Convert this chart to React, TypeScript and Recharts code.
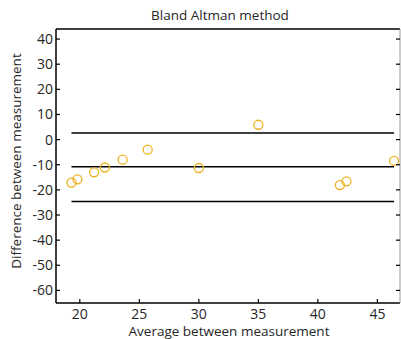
import React from 'react';
import { ScatterChart, Scatter, XAxis, YAxis, ReferenceLine } from 'recharts';

// values
const avgValues = [19.3, 19.8, 21.2, 22.1, 23.6, 25.7, 30.0, 35.0, 41.85, 42.4, 46.4];
const diffValues = [-17.1, -15.8, -13.0, -11.1, -8.0, -4.0, -11.3, 5.9, -18.1, -16.6, -8.5];
const xTicks = [20, 25, 30, 35, 40, 45];
const yTicks = [-60, -50, -40, -30, -20, -10, 0, 10, 20, 30, 40];
const meanDiff = -10.8;
const upperLimit = 2.6;
const lowerLimit = -24.6;

const points = avgValues.map((a, i) => ({ avg: a, diff: diffValues[i] }));
const xMin = Math.min(...avgValues);
const xMax = Math.max(...avgValues);

const FONT = '"Open Sans", sans-serif';
const TEXT = '#262626';

const BottomTick = (props: any) => {
  const { x, y, payload } = props;
  return (
    <g>
      <line x1={x} y1={y} x2={x} y2={y - 4} stroke="#000" strokeWidth={1.2} />
      <text x={x} y={y + 16} textAnchor="middle" fontSize={14} fontFamily={FONT} fill={TEXT}>
        {payload.value}
      </text>
    </g>
  );
};

const LeftTick = (props: any) => {
  const { x, y, payload } = props;
  return (
    <g>
      <line x1={x} y1={y} x2={x + 4} y2={y} stroke="#000" strokeWidth={1.2} />
      <text x={x - 3} y={y + 5} textAnchor="end" fontSize={14} fontFamily={FONT} fill={TEXT}>
        {payload.value}
      </text>
    </g>
  );
};

const TopTick = (props: any) => (
  <line x1={props.x} y1={props.y} x2={props.x} y2={props.y + 4} stroke="#000" strokeWidth={1.2} />
);

const RightTick = (props: any) => (
  <line x1={props.x} y1={props.y} x2={props.x - 4} y2={props.y} stroke="#000" strokeWidth={1.2} />
);

const Ring = (props: any) => (
  <circle cx={props.cx} cy={props.cy} r={4.5} fill="none" stroke="#EDB120" strokeWidth={1.3} />
);

export default function App() {
  const axisLine = { stroke: '#000', strokeWidth: 1.5 };
  return (
    <div style={{ position: 'absolute', left: 0, top: 0, width: 401, height: 339, background: '#fff', fontFamily: FONT, color: TEXT }}>
      <ScatterChart width={401} height={339} margin={{ top: 28, right: 0, bottom: 35, left: 55 }}>
        <XAxis
          xAxisId={0}
          type="number"
          dataKey="avg"
          domain={[18, 46.9]}
          ticks={xTicks}
          allowDataOverflow
          height={1}
          tickSize={0}
          tickMargin={0}
          tickLine={false}
          axisLine={axisLine}
          tick={<BottomTick />}
          interval={0}
        />
        <XAxis
          xAxisId="top"
          orientation="top"
          type="number"
          domain={[18, 46.9]}
          ticks={xTicks}
          allowDataOverflow
          height={1}
          tickSize={0}
          tickMargin={0}
          tickLine={false}
          axisLine={axisLine}
          tick={<TopTick />}
          interval={0}
        />
        <YAxis
          yAxisId={0}
          type="number"
          dataKey="diff"
          domain={[-65, 44]}
          ticks={yTicks}
          allowDataOverflow
          width={1}
          tickSize={0}
          tickMargin={0}
          tickLine={false}
          axisLine={axisLine}
          tick={<LeftTick />}
          interval={0}
        />
        <YAxis
          yAxisId="right"
          orientation="right"
          type="number"
          domain={[-65, 44]}
          ticks={yTicks}
          allowDataOverflow
          width={1}
          tickSize={0}
          tickMargin={0}
          tickLine={false}
          axisLine={{ stroke: '#9a9a9a', strokeWidth: 1 }}
          tick={<RightTick />}
          interval={0}
        />
        <ReferenceLine segment={[{ x: xMin, y: upperLimit }, { x: xMax, y: upperLimit }]} stroke="#000" strokeWidth={1.5} />
        <ReferenceLine segment={[{ x: xMin, y: meanDiff }, { x: xMax, y: meanDiff }]} stroke="#000" strokeWidth={1.5} />
        <ReferenceLine segment={[{ x: xMin, y: lowerLimit }, { x: xMax, y: lowerLimit }]} stroke="#000" strokeWidth={1.5} />
        <Scatter data={points} shape={<Ring />} isAnimationActive={false} />
      </ScatterChart>
      <div style={{ position: 'absolute', left: 120, width: 200, top: 5, textAlign: 'center', fontSize: 13.5, lineHeight: '20px' }}>
        Bland Altman method
      </div>
      <div style={{ position: 'absolute', left: 109, width: 240, top: 324, textAlign: 'center', fontSize: 13.5, lineHeight: '15px' }}>
        Average between measurement
      </div>
      <div
        style={{
          position: 'absolute',
          left: 16 - 130,
          top: 161 - 10,
          width: 260,
          textAlign: 'center',
          fontSize: 13.5,
          lineHeight: '20px',
          transform: 'rotate(-90deg)',
          transformOrigin: '130px 10px',
        }}
      >
        Difference between measurement
      </div>
    </div>
  );
}
